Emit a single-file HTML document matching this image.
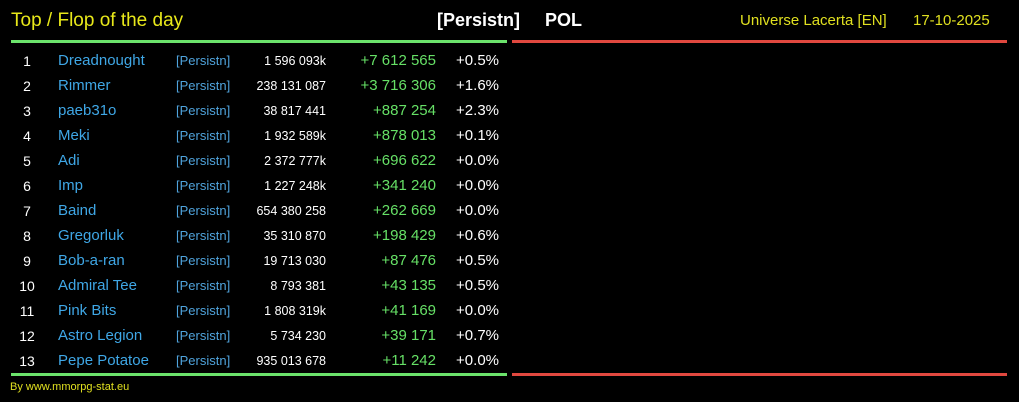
<!DOCTYPE html><html><head><style>
body{margin:0;width:1019px;height:402px;background:#000;overflow:hidden;font-family:"Liberation Sans",sans-serif;position:relative}
div{position:absolute;white-space:nowrap}
.r{line-height:20px}
.rk{width:40px;left:7px;text-align:center;color:#fff;font-size:14px;margin-top:1px}
.nm{left:58px;color:#3fa7e6;font-size:15px;margin-top:1px}
.tg{left:176px;color:#4fa3dc;font-size:13px;margin-top:1px}
.tt{right:693px;color:#fff;font-size:12.5px;margin-top:1px}
.gn{right:583px;color:#66e066;font-size:15px;margin-top:1px}
.pc{right:520px;color:#fff;font-size:15px;margin-top:1px}
</style></head><body>
<div style="left:11px;top:10px;color:#e8e81a;font-size:19px">Top / Flop of the day</div>
<div style="left:437px;top:10px;color:#fff;font-size:18px;font-weight:bold">[Persistn]</div>
<div style="left:545px;top:10px;color:#fff;font-size:18px;font-weight:bold">POL</div>
<div style="left:740px;top:12px;color:#e0e020;font-size:15px">Universe Lacerta [EN]</div>
<div style="left:913px;top:12px;color:#e0e020;font-size:15px">17-10-2025</div>
<div style="left:11px;top:40px;width:496px;height:3px;background:#6be36b"></div>
<div style="left:512px;top:40px;width:495px;height:3px;background:#e0483f"></div>
<div style="left:11px;top:373px;width:496px;height:3px;background:#6be36b"></div>
<div style="left:512px;top:373px;width:495px;height:3px;background:#e0483f"></div>
<div style="left:10px;top:381px;color:#e0e020;font-size:11px">By www.mmorpg-stat.eu</div>
<div id="rows"></div>
<script>
var d=[["Dreadnought","1 596 093k","+7 612 565","+0.5%"],["Rimmer","238 131 087","+3 716 306","+1.6%"],["paeb31o","38 817 441","+887 254","+2.3%"],["Meki","1 932 589k","+878 013","+0.1%"],["Adi","2 372 777k","+696 622","+0.0%"],["Imp","1 227 248k","+341 240","+0.0%"],["Baind","654 380 258","+262 669","+0.0%"],["Gregorluk","35 310 870","+198 429","+0.6%"],["Bob-a-ran","19 713 030","+87 476","+0.5%"],["Admiral Tee","8 793 381","+43 135","+0.5%"],["Pink Bits","1 808 319k","+41 169","+0.0%"],["Astro Legion","5 734 230","+39 171","+0.7%"],["Pepe Potatoe","935 013 678","+11 242","+0.0%"]];
var h="";d.forEach(function(r,i){var t=50+i*25;
h+='<div class="r rk" style="top:'+t+'px">'+(i+1)+'</div><div class="r nm" style="top:'+t+'px">'+r[0]+'</div><div class="r tg" style="top:'+t+'px">[Persistn]</div><div class="r tt" style="top:'+t+'px">'+r[1]+'</div><div class="r gn" style="top:'+t+'px">'+r[2]+'</div><div class="r pc" style="top:'+t+'px">'+r[3]+'</div>';});
document.getElementById("rows").outerHTML=h;
</script>
</body></html>
